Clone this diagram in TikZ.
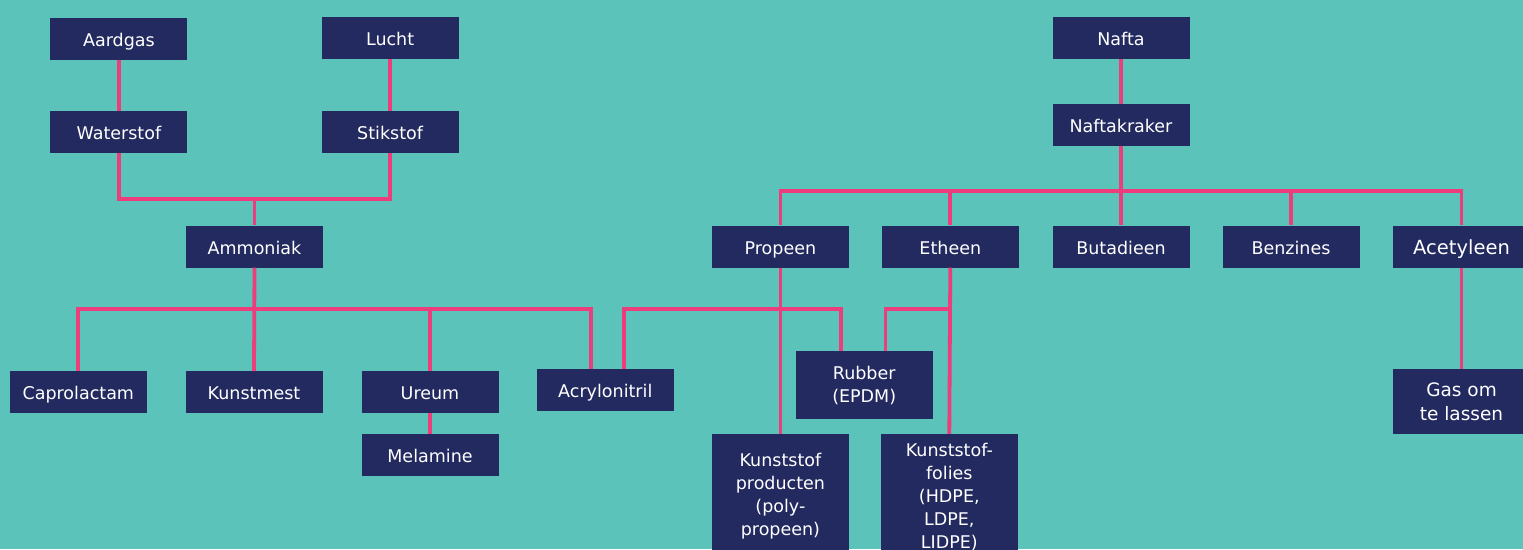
\documentclass[tikz,border=0pt]{standalone}
\usepackage{fontspec}
\setmainfont{DejaVu Sans}
\definecolor{bgteal}{HTML}{5BC3BA}
\definecolor{boxnavy}{HTML}{232A60}
\definecolor{linkpink}{HTML}{EE3D7D}
\tikzset{
  box/.style={fill=boxnavy, draw=none, text=white, minimum width=137pt, minimum height=42pt,
    inner sep=0pt, align=center, font=\fontsize{17.5}{23}\selectfont},
  onebox/.style={box, text height=15pt, text depth=0pt},
  link/.style={draw=linkpink, line width=3.8pt, line join=miter}
}
\begin{document}
\begin{tikzpicture}[x=1pt,y=-1pt]
\useasboundingbox (0,0) rectangle (1523,549);
\fill[bgteal] (0,0) rectangle (1523,549);
% left tree
\node[onebox] (aard) at (118.9,39.2) {Aardgas};
\node[onebox] (lucht) at (390.1,38.2) {Lucht};
\node[onebox] (water) at (118.9,131.9) {Waterstof};
\node[onebox] (stik) at (390.1,131.9) {Stikstof};
\node[onebox] (amm) at (254.5,246.5) {Ammoniak};
\node[onebox] (capro) at (78.3,392.3) {Caprolactam};
\node[onebox] (kunst) at (254,392.2) {Kunstmest};
\node[onebox] (ureum) at (430,392.2) {Ureum};
\node[onebox] (mela) at (430,455) {Melamine};
\node[onebox] (acryl) at (605.3,390.3) {Acrylonitril};
% right tree
\node[onebox] (nafta) at (1121,38.2) {Nafta};
\node[onebox] (kraker) at (1121,125) {Naftakraker};
\node[onebox] (propeen) at (780.4,246.5) {Propeen};
\node[onebox] (etheen) at (950.3,246.5) {Etheen};
\node[onebox] (buta) at (1121,246.5) {Butadieen};
\node[onebox] (benz) at (1291,246.5) {Benzines};
\node[onebox, font=\fontsize{19.5}{23}\selectfont] (acet) at (1461.5,246.5) {Acetyleen};
\node[box, minimum height=68.3pt] (rubber) at (864.2,385.2) {Rubber\\(EPDM)};
\node[box, minimum height=125pt] (kprod) at (780.4,496.5) {Kunststof\\producten\\(poly-\\propeen)};
\node[box, minimum height=125pt] (kfol) at (949.3,496.5) {Kunststof-\\folies\\(HDPE,\\LDPE,\\LIDPE)};
\node[box, minimum height=65pt, font=\fontsize{18.5}{24}\selectfont] (gas) at (1461.5,401.8) {Gas om\\te lassen};
% junctions
\coordinate (j1) at (254.5,199.3);
\coordinate (j2) at (254.5,309);
\coordinate (j2a) at (590.6,309);
\coordinate (j3a) at (623.7,309);
\coordinate (j3b) at (840.9,309);
\coordinate (j4) at (885.5,309);
\coordinate (j5) at (1121,191);
% connectors left
\draw[link] (aard.south) -- (water.north);
\draw[link] (lucht.south) -- (stik.north);
\draw[link] (water.south) |- (j1) -| (stik.south);
\draw[link] (j1) -- (amm.north);
\draw[link] (amm.south) -- (kunst.north);
\draw[link] (capro.north) |- (j2a) -- (j2a |- acryl.north);
\draw[link] (ureum.north) -- (ureum.north |- j2);
\draw[link] (ureum.south) -- (mela.north);
% connectors right
\draw[link] (nafta.south) -- (kraker.north);
\draw[link] (kraker.south) -- (buta.north);
\draw[link] (propeen.north) |- (j5) -| (acet.north);
\draw[link] (etheen.north) -- (etheen.north |- j5);
\draw[link] (benz.north) -- (benz.north |- j5);
\draw[link] (propeen.south) -- (kprod.north);
\draw[link] (etheen.south) -- (kfol.north);
\draw[link] (j3a |- acryl.north) -- (j3a) -- (j3b) -- (j3b |- rubber.north);
\draw[link] (j4 |- rubber.north) -- (j4) -- (etheen.south |- j4);
\draw[link] (acet.south) -- (gas.north);
\end{tikzpicture}
\end{document}
